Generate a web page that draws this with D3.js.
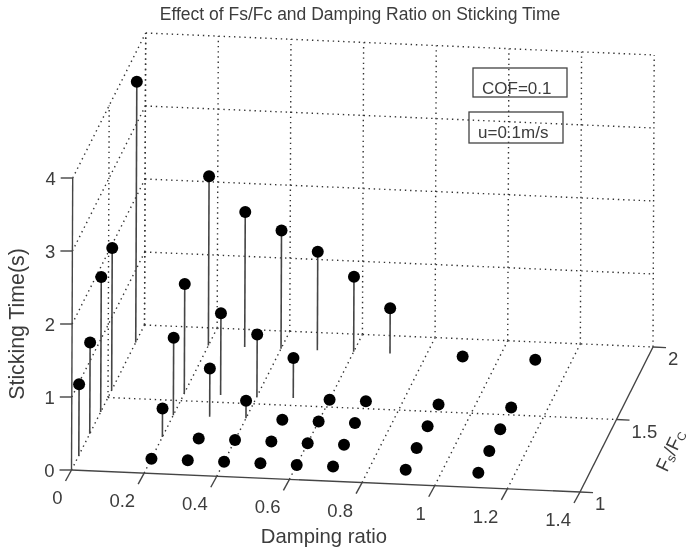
<!DOCTYPE html>
<html>
<head>
<meta charset="utf-8">
<script src="https://cdn.jsdelivr.net/npm/d3@7"></script>
<style>
  body { margin: 0; background: #fff; }
  text { font-family: "Liberation Sans", Arial, sans-serif; fill: #3c3c3c; }
</style>
</head>
<body>
<div id="graph-container"></div>
<script>
/*
 * Data
 */
const dampingTicks = [0, 0.2, 0.4, 0.6, 0.8, 1, 1.2, 1.4]
const ratioTicks = [1, 1.5, 2]
const timeTicks = [0, 1, 2, 3, 4]

const dampingRatios = [0, 0.2, 0.3, 0.4, 0.5, 0.6, 0.7, 0.9, 1.1]
const forceRatios = [1.1, 1.25, 1.4, 1.55, 1.88]

// one row per force ratio, one value per damping ratio
const timesRow1 = [0.975, 0, 0, 0, 0, 0, 0, 0, 0]
const timesRow2 = [1.25, 0.39, 0, 0, 0, 0, 0, 0, 0]
const timesRow3 = [1.85, 1.06, 0.66, 0.24, 0, 0, 0, 0, 0]
const timesRow4 = [1.95, 1.5, 1.12, 0.85, 0.55, 0, 0, 0, 0]
const timesRow5 = [3.57, 2.32, 1.85, 1.62, 1.35, 1.03, 0.62, 0, 0]
const stickingTimes = [timesRow1, timesRow2, timesRow3, timesRow4, timesRow5]

const points = []
forceRatios.forEach((ratio, r) => {
  dampingRatios.forEach((damping, d) => {
    points.push({ damping: damping, ratio: ratio, time: stickingTimes[r][d] })
  })
})

/*
 * Initialize SVG
 */
const w = 690
const h = 554

const svg = d3.select('#graph-container')
  .append('svg')
  .attr('width', w)
  .attr('height', h)
  .style('display', 'block')

// the reference is a soft scan, so everything gets a slight blur
svg.append('filter')
  .attr('id', 'soft')
  .append('feGaussianBlur')
  .attr('stdDeviation', 0.4)

const root = svg.append('g').attr('filter', 'url(#soft)')

/*
 * Oblique projection: each data axis moves the point in both screen directions
 */
const originX = 71.5
const originY = 470

const dampingX = d3.scaleLinear().domain([0, 1.4]).range([0, 508.5])
const dampingY = d3.scaleLinear().domain([0, 1.4]).range([0, 22])
const ratioX = d3.scaleLinear().domain([1, 2]).range([0, 73])
const ratioY = d3.scaleLinear().domain([1, 2]).range([0, -145])
const timeX = d3.scaleLinear().domain([0, 4]).range([0, 1.2])
const timeY = d3.scaleLinear().domain([0, 4]).range([0, -292])

function project(damping, ratio, time) {
  return [
    originX + dampingX(damping) + ratioX(ratio) + timeX(time),
    originY + dampingY(damping) + ratioY(ratio) + timeY(time)
  ]
}

function segment(parent, a, b) {
  return parent.append('line')
    .attr('x1', a[0])
    .attr('y1', a[1])
    .attr('x2', b[0])
    .attr('y2', b[1])
}

/*
 * Dotted grid on floor and the two walls
 */
const grid = root.append('g')
  .attr('stroke', '#333')
  .attr('stroke-width', 1.4)
  .attr('stroke-dasharray', '1.4 3.8')

dampingTicks.forEach(d => {
  if (d < 1.4) segment(grid, project(d, 1, 0), project(d, 2, 0))
  segment(grid, project(d, 2, 0), project(d, 2, 4))
})
ratioTicks.forEach(r => {
  if (r > 1) segment(grid, project(0, r, 0), project(1.4, r, 0))
  if (r > 1) segment(grid, project(0, r, 0), project(0, r, 4))
})
timeTicks.forEach(t => {
  if (t > 0) {
    segment(grid, project(0, 1, t), project(0, 2, t))
    segment(grid, project(0, 2, t), project(1.4, 2, t))
  }
})

/*
 * Solid axes and ticks
 */
const axes = root.append('g')
  .attr('stroke', '#444')
  .attr('stroke-width', 1.4)

segment(axes, project(0, 1, 0), project(1.4, 1, 0))
segment(axes, project(1.4, 1, 0), project(1.4, 2, 0))
segment(axes, project(0, 1, 0), project(0, 1, 4))

dampingTicks.forEach(d => {
  const p = project(d, 1, 0)
  segment(axes, p, [p[0] - 6, p[1] + 11])
  root.append('text')
    .attr('x', p[0] - 9)
    .attr('y', p[1] + 34)
    .attr('text-anchor', 'end')
    .attr('font-size', 18.5)
    .text(d)
})
ratioTicks.forEach(r => {
  const p = project(1.4, r, 0)
  segment(axes, p, [p[0] + 13, p[1] + 0.6])
  root.append('text')
    .attr('x', p[0] + 15)
    .attr('y', p[1] + 18)
    .attr('font-size', 18.5)
    .text(r)
})
timeTicks.forEach(t => {
  const p = project(0, 1, t)
  segment(axes, p, [p[0] - 12, p[1]])
  root.append('text')
    .attr('x', p[0] - 17)
    .attr('y', p[1] + 7)
    .attr('text-anchor', 'end')
    .attr('font-size', 18.5)
    .text(t)
})

/*
 * Stems and markers
 */
root.append('g')
  .selectAll('line')
  .data(points.filter(d => d.time > 0))
  .enter()
  .append('line')
  .attr('x1', d => project(d.damping, d.ratio, 0)[0])
  .attr('y1', d => project(d.damping, d.ratio, 0)[1])
  .attr('x2', d => project(d.damping, d.ratio, d.time)[0])
  .attr('y2', d => project(d.damping, d.ratio, d.time)[1])
  .attr('stroke', '#444')
  .attr('stroke-width', 1.6)

root.append('g')
  .selectAll('circle')
  .data(points)
  .enter()
  .append('circle')
  .attr('cx', d => project(d.damping, d.ratio, d.time)[0])
  .attr('cy', d => project(d.damping, d.ratio, d.time)[1])
  .attr('r', 6)
  .attr('fill', '#000')

/*
 * Titles
 */
root.append('text')
  .attr('x', 360)
  .attr('y', 20)
  .attr('text-anchor', 'middle')
  .attr('font-size', 17.5)
  .text('Effect of Fs/Fc and Damping Ratio on Sticking Time')

root.append('text')
  .attr('x', 324)
  .attr('y', 543)
  .attr('text-anchor', 'middle')
  .attr('font-size', 20.3)
  .text('Damping ratio')

root.append('text')
  .attr('transform', 'translate(24,324) rotate(-90)')
  .attr('text-anchor', 'middle')
  .attr('font-size', 21.3)
  .text('Sticking Time(s)')

const ratioLabel = root.append('text')
  .attr('transform', 'translate(667,473) rotate(-65)')
  .attr('font-size', 19)
ratioLabel.append('tspan').text('F')
ratioLabel.append('tspan').attr('dy', 2).attr('font-size', 13).text('s')
ratioLabel.append('tspan').attr('dy', -2).text('/F')
ratioLabel.append('tspan').attr('dy', 2).attr('font-size', 12).text('C')

/*
 * Annotation boxes, no fill so the grid shows through
 */
const notes = [
  { label: 'COF=0.1', x: 473, y: 68, w: 94, h: 29, tx: 482, ty: 94 },
  { label: 'u=0.1m/s', x: 469, y: 112, w: 94, h: 31, tx: 478, ty: 138 }
]
notes.forEach(n => {
  root.append('rect')
    .attr('x', n.x)
    .attr('y', n.y)
    .attr('width', n.w)
    .attr('height', n.h)
    .attr('fill', 'none')
    .attr('stroke', '#444')
    .attr('stroke-width', 1.3)
  root.append('text')
    .attr('x', n.tx)
    .attr('y', n.ty)
    .attr('font-size', 17)
    .text(n.label)
})
</script>
</body>
</html>
